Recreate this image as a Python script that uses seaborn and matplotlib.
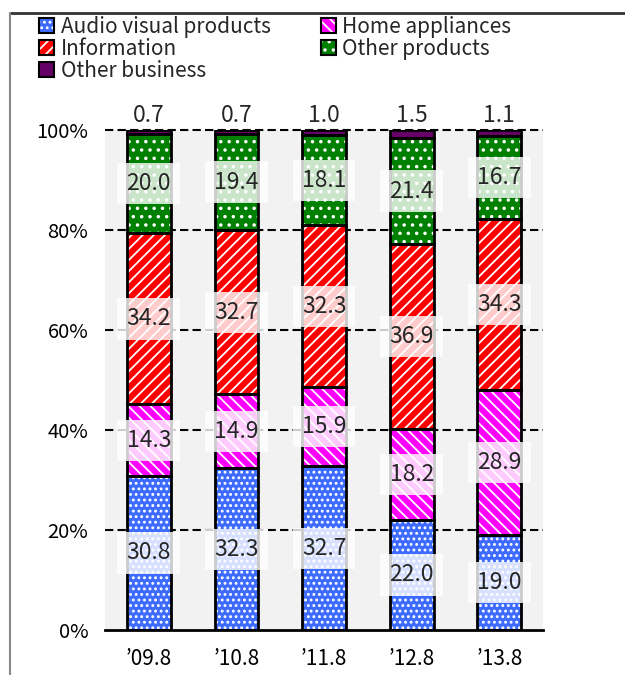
import numpy as np
import pandas as pd
import matplotlib
matplotlib.use("Agg")
import matplotlib.pyplot as plt
import seaborn as sns
from matplotlib.lines import Line2D
from matplotlib.patches import Patch, Rectangle

# Sales composition by business segment (%), fiscal periods ending August
periods = ["’09.8", "’10.8", "’11.8", "’12.8", "’13.8"]
audio_visual = [30.8, 32.3, 32.7, 22.0, 19.0]
home_appliances = [14.3, 14.9, 15.9, 18.2, 28.9]
information = [34.2, 32.7, 32.3, 36.9, 34.3]
other_products = [20.0, 19.4, 18.1, 21.4, 16.7]
other_business = [0.7, 0.7, 1.0, 1.5, 1.1]

series_names = ["Audio visual products", "Home appliances", "Information",
                "Other products", "Other business"]
series_values = [audio_visual, home_appliances, information,
                 other_products, other_business]
series_colors = ["#3d6bff", "#ff00ff", "#ff0000", "#008000", "#660066"]
series_hatches = ["...", "\\\\\\", "///", "..", None]

sns.set_style("white")
plt.rcParams["font.family"] = ["Noto Sans CJK JP", "DejaVu Sans"]
plt.rcParams["hatch.linewidth"] = 1.3

fig = plt.figure(figsize=(6.25, 6.75), dpi=100)
ax = fig.add_axes([0.168, 0.0667, 0.701, 0.7407])
ax.set_facecolor("#f2f2f2")

# dashed reference lines behind the bars
for level in [20, 40, 60, 80, 100]:
    ax.axhline(level, color="black", linestyle=(0, (4, 2)), linewidth=1.5,
               zorder=0.5, clip_on=False)

bottoms = np.zeros(len(periods))
legend_handles = []
for name, vals, color, hatch in zip(series_names, series_values,
                                    series_colors, series_hatches):
    df = pd.DataFrame({"period": periods, "value": vals})
    n_before = len(ax.patches)
    sns.barplot(data=df, x="period", y="value", bottom=bottoms.copy(),
                color=color, saturation=1, width=0.5, ax=ax,
                edgecolor="white", linewidth=0, hatch=hatch, zorder=2)
    new_patches = ax.patches[n_before:]
    for p in new_patches:
        ax.add_patch(Rectangle(p.get_xy(), p.get_width(), p.get_height(),
                               fill=False, edgecolor="black", linewidth=2,
                               zorder=3))
    legend_handles.append((Patch(facecolor=color, edgecolor="white",
                                 hatch=hatch, linewidth=0),
                           Patch(fill=False, edgecolor="black", linewidth=1.5)))
    # segment value labels
    for i, v in enumerate(vals):
        if name == "Other business":
            ax.annotate(f"{v:.1f}", (i, 100), xytext=(0, 2),
                        textcoords="offset points", ha="center", va="bottom",
                        fontsize=16.5, annotation_clip=False)
        else:
            ax.text(i, bottoms[i] + v / 2, f"{v:.1f}", ha="center",
                    va="center", fontsize=16.5, zorder=4,
                    bbox=dict(boxstyle="square,pad=0.4", facecolor="white",
                              edgecolor="none", alpha=0.8))
    bottoms += np.array(vals)

ax.set_ylim(0, 100)
ax.set_xlim(-0.5, len(periods) - 0.5)
ax.set_yticks([0, 20, 40, 60, 80, 100])
ax.set_yticklabels([f"{t}%" for t in [0, 20, 40, 60, 80, 100]])
ax.set_xlabel("")
ax.set_ylabel("")
ax.tick_params(axis="both", length=0, colors="black")
ax.tick_params(axis="y", pad=12, labelsize=14.5)
ax.tick_params(axis="x", pad=13, labelsize=15)
for side in ["top", "right", "left"]:
    ax.spines[side].set_visible(False)
ax.spines["bottom"].set_color("black")
ax.spines["bottom"].set_linewidth(2)
ax.spines["bottom"].set_zorder(5)

order = [0, 2, 4, 1, 3]
fig.legend([legend_handles[k] for k in order], [series_names[k] for k in order],
           loc="upper left", bbox_to_anchor=(0.062, 0.977), ncol=2,
           frameon=False, fontsize=15, handlelength=0.75, handleheight=0.75,
           handletextpad=0.3, columnspacing=2.4, labelspacing=0.0,
           borderpad=0, borderaxespad=0)

# outer frame lines
fig.add_artist(Line2D([10 / 625, 1], [1 - 13 / 675] * 2,
                      transform=fig.transFigure, color="#333333", linewidth=2))
fig.add_artist(Line2D([10 / 625] * 2, [0, 1 - 13 / 675],
                      transform=fig.transFigure, color="#888888", linewidth=1.5))

fig.savefig("out.png", dpi=100)
